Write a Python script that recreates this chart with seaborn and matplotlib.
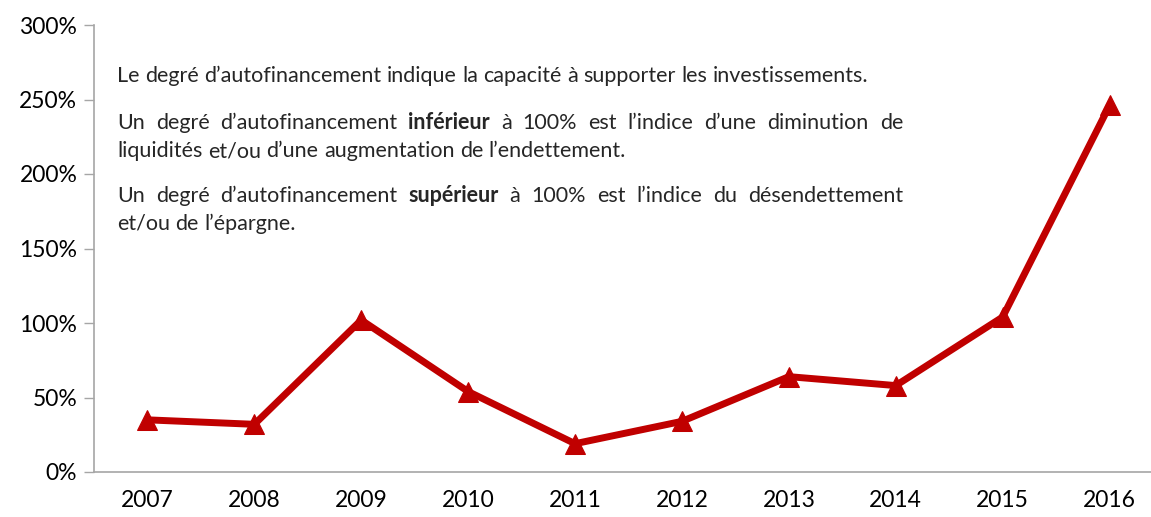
import matplotlib
matplotlib.use("Agg")
import matplotlib.pyplot as plt
import seaborn as sns
from matplotlib.ticker import FuncFormatter

# données
annees = ["2007", "2008", "2009", "2010", "2011", "2012", "2013", "2014", "2015", "2016"]
degre_autofin = [35, 32, 102, 54, 19, 34, 64, 58, 104, 246]
ticks_y = [0, 50, 100, 150, 200, 250, 300]

# texte: (morceaux, justifié ?)
texte = [
    ([("Le degré d’autofinancement indique la capacité à supporter les investissements.", "normal")], False),
    ([("Un degré d’autofinancement", "normal"), ("inférieur", "bold"),
      ("à 100% est l’indice d’une diminution de", "normal")], True),
    ([("liquidités et/ou d’une augmentation de l’endettement.", "normal")], False),
    ([("Un degré d’autofinancement", "normal"), ("supérieur", "bold"),
      ("à 100% est l’indice du désendettement", "normal")], True),
    ([("et/ou de l’épargne.", "normal")], False),
]
lignes_y = [82, 129, 157, 202, 230]  # lignes de base, en pixels depuis le haut

sns.set_style("white")
plt.rcParams["font.family"] = ["Lato", "DejaVu Sans"]

W, H = 1151, 517
fig = plt.figure(figsize=(W / 100, H / 100), dpi=100)
ax = fig.add_axes([94 / W, 1 - 472 / H, 1069 / W, 447 / H])

rouge = "#C00000"
sns.lineplot(x=annees, y=degre_autofin, ax=ax, color=rouge, linewidth=5,
             marker="^", markersize=14, markeredgecolor=rouge, sort=False)

ax.set_xlim(-0.5, 9.5)
ax.set_ylim(0, 300)
ax.set_yticks(ticks_y)
ax.yaxis.set_major_formatter(FuncFormatter(lambda v, p: f"{v:.0f}%"))
ax.tick_params(axis="y", length=7, width=1, color="#A6A6A6", direction="out",
               labelsize=16.5, pad=5, left=True, labelcolor="black")
ax.tick_params(axis="x", length=0, labelsize=16.5, pad=13, labelcolor="black")
ax.set_xlabel("")
ax.set_ylabel("")
for s in ["top", "right"]:
    ax.spines[s].set_visible(False)
for s in ["left", "bottom"]:
    ax.spines[s].set_color("#A6A6A6")
    ax.spines[s].set_linewidth(1.2)

# texte explicatif, justifié comme dans l'original
fs = 15.5
x0, x1 = 117, 903
fig.canvas.draw()
rend = fig.canvas.get_renderer()


def largeur(s, w):
    t = fig.text(0, 0, s, fontsize=fs, fontweight=w)
    l = t.get_window_extent(rend).width
    t.remove()
    return l


esp = largeur("a a", "normal") - largeur("aa", "normal")

for (parts, just), yb in zip(texte, lignes_y):
    mots = [(m, w) for s, w in parts for m in s.split(" ")]
    larg = [largeur(m, w) for m, w in mots]
    gap = (x1 - x0 - sum(larg)) / (len(mots) - 1) if just else esp
    x = x0
    for (m, w), l in zip(mots, larg):
        fig.text(x / W, 1 - yb / H, m, fontsize=fs, fontweight=w,
                 va="baseline", ha="left")
        x += l + gap

fig.savefig("out.png", dpi=100)
